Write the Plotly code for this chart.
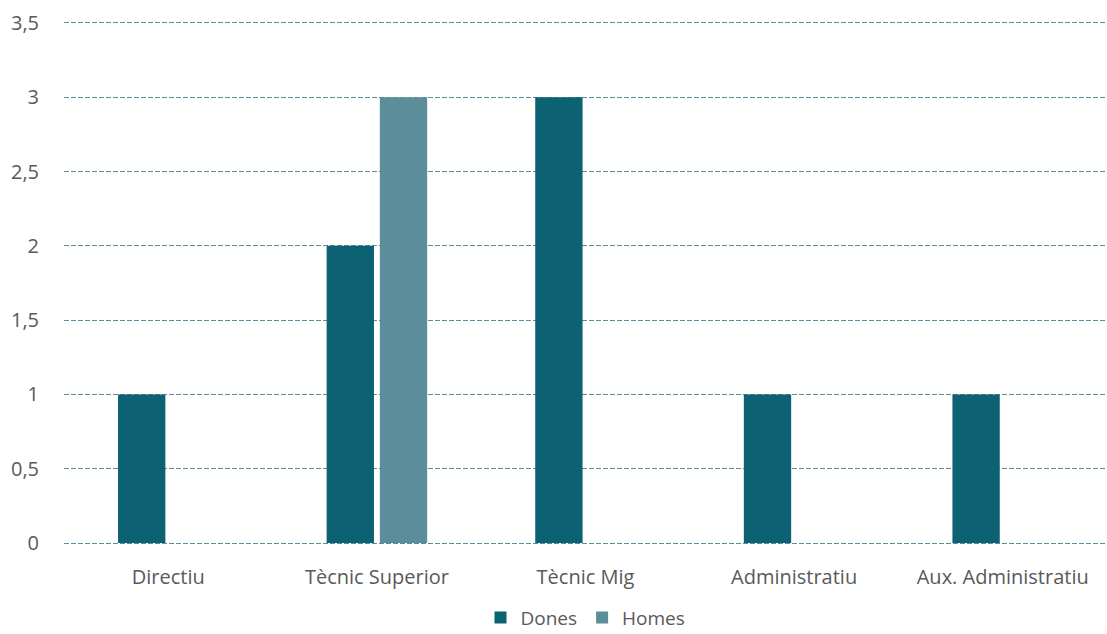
import plotly.graph_objects as go

# -------------------------------------------------
# Data
# -------------------------------------------------
categories = ["Directiu", "Tècnic Superior", "Tècnic Mig", "Administratiu", "Aux. Administratiu"]
dones = [1, 2, 3, 1, 1]
homes = [None, 3, None, None, None]

fig = go.Figure()

fig.add_trace(
    go.Bar(
        x=categories,
        y=dones,
        name="Dones",
        marker=dict(color="#0C6272", line=dict(width=0)),
    )
)
fig.add_trace(
    go.Bar(
        x=categories,
        y=homes,
        name="Homes",
        marker=dict(color="#5B8E9A", line=dict(width=0)),
    )
)

fig.update_layout(
    width=1107,
    height=634,
    barmode="group",
    bargap=0.49,
    bargroupgap=0.11,
    plot_bgcolor="white",
    paper_bgcolor="white",
    separators=", ",
    font=dict(family="Open Sans", size=20, color="#595959"),
    margin=dict(l=64, r=0, t=20, b=88, autoexpand=False),
    legend=dict(
        orientation="h",
        x=0.5,
        xanchor="center",
        y=-0.1,
        yanchor="top",
        font=dict(size=19, color="#595959"),
        traceorder="normal",
        tracegroupgap=0,
    ),
    xaxis=dict(
        showgrid=False,
        showline=False,
        ticks="outside",
        ticklen=13,
        tickcolor="rgba(0,0,0,0)",
        automargin=False,
    ),
    yaxis=dict(
        range=[-0.02, 3.52],
        dtick=0.5,
        showgrid=True,
        gridcolor="#5B8E9A",
        griddash="5px,2px",
        gridwidth=1,
        zeroline=False,
        showline=False,
        ticks="outside",
        ticklen=20,
        tickcolor="rgba(0,0,0,0)",
        automargin=False,
    ),
    showlegend=True,
)

fig.write_html(
    "out.html",
    config={"displayModeBar": False},
    post_script="document.body.style.margin='0px';",
)
